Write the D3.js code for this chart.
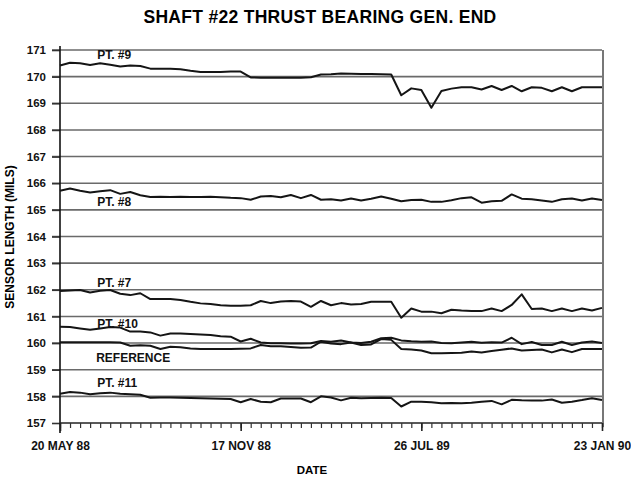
<!DOCTYPE html>
<html>
<head>
<meta charset="utf-8">
<script src="https://cdn.jsdelivr.net/npm/d3@7"></script>
<style>
  html, body { margin: 0; padding: 0; background: #fff; }
  svg { display: block; font-family: "Liberation Sans", Arial, sans-serif; font-weight: bold; }
</style>
</head>
<body>
<svg id="chart" width="631" height="479"></svg>
<script>
// Sample dates are evenly spaced; labels mark every 18th reading.
const dateLabels = ["20 MAY 88", "17 NOV 88", "26 JUL 89", "23 JAN 90"];
const dateLabelIndex = [0, 18, 36, 54];
const yTicks = [157, 158, 159, 160, 161, 162, 163, 164, 165, 166, 167, 168, 169, 170, 171];

// Sensor lengths (mils) for each measuring point
const pt9 = [170.42, 170.52, 170.5, 170.44, 170.5, 170.45, 170.38, 170.42, 170.4, 170.3,
  170.3, 170.3, 170.28, 170.22, 170.17, 170.17, 170.17, 170.19, 170.19, 169.97,
  169.96, 169.96, 169.96, 169.96, 169.96, 169.98, 170.08, 170.09, 170.12, 170.11,
  170.1, 170.1, 170.09, 170.08, 169.3, 169.56, 169.5, 168.83, 169.46, 169.55,
  169.6, 169.6, 169.52, 169.65, 169.5, 169.65, 169.45, 169.6, 169.58, 169.45,
  169.6, 169.45, 169.6, 169.6, 169.6];
const pt8 = [165.72, 165.8, 165.72, 165.65, 165.7, 165.74, 165.6, 165.67, 165.55, 165.48,
  165.49, 165.48, 165.49, 165.48, 165.48, 165.49, 165.47, 165.45, 165.44, 165.38,
  165.5, 165.52, 165.47, 165.56, 165.44, 165.56, 165.38, 165.4, 165.35, 165.43,
  165.35, 165.42, 165.5, 165.42, 165.32, 165.37, 165.38, 165.3, 165.3, 165.36,
  165.44, 165.47, 165.27, 165.32, 165.34, 165.58, 165.42, 165.4, 165.35, 165.3,
  165.4, 165.43, 165.35, 165.43, 165.37];
const pt7 = [161.95, 161.97, 161.99, 161.9, 161.96, 161.99, 161.85, 161.8, 161.87, 161.65,
  161.65, 161.65, 161.62, 161.55, 161.49, 161.47, 161.42, 161.4, 161.4, 161.42,
  161.58, 161.5, 161.56, 161.58, 161.56, 161.36, 161.58, 161.42, 161.5, 161.45,
  161.47, 161.55, 161.55, 161.55, 160.95, 161.3, 161.18, 161.18, 161.12, 161.25,
  161.22, 161.2, 161.2, 161.3, 161.2, 161.43, 161.83, 161.28, 161.3, 161.2,
  161.3, 161.2, 161.3, 161.22, 161.32];
const pt10 = [160.61, 160.6, 160.55, 160.5, 160.55, 160.6, 160.58, 160.43, 160.43, 160.4,
  160.28, 160.36, 160.36, 160.34, 160.32, 160.3, 160.26, 160.24, 160.06, 160.16,
  160.02, 159.99, 159.99, 159.98, 159.98, 159.99, 160.08, 160.05, 160.1, 160.02,
  160.0, 160.05, 160.18, 160.2, 160.1, 160.07, 160.05, 160.06, 160.0, 159.99,
  160.02, 160.05, 160.01, 160.03, 160.02, 160.2, 159.96, 160.04, 159.93, 159.93,
  160.05, 159.93, 160.02, 160.06, 160.0];
const reference = [160.03, 160.03, 160.03, 160.03, 160.03, 160.03, 160.02, 159.9, 159.92, 159.9,
  159.78, 159.86, 159.84, 159.8, 159.78, 159.78, 159.78, 159.78, 159.79, 159.8,
  159.93, 159.88, 159.88, 159.85, 159.82, 159.83, 160.05, 159.98, 159.96, 160.02,
  159.93, 159.95, 160.15, 160.12, 159.78, 159.76, 159.72, 159.62, 159.62, 159.63,
  159.64, 159.68, 159.65, 159.7, 159.75, 159.8, 159.72, 159.74, 159.76, 159.65,
  159.76, 159.66, 159.78, 159.78, 159.78];
const pt11 = [158.1, 158.16, 158.14, 158.08, 158.12, 158.14, 158.1, 158.08, 158.06, 157.95,
  157.96, 157.96, 157.95, 157.94, 157.93, 157.92, 157.91, 157.9, 157.78, 157.9,
  157.8, 157.78, 157.92, 157.92, 157.92, 157.78, 158.0, 157.96, 157.85, 157.95,
  157.93, 157.94, 157.95, 157.94, 157.62, 157.8, 157.8, 157.78, 157.74, 157.75,
  157.74, 157.76, 157.8, 157.83, 157.7, 157.87, 157.85, 157.84, 157.84, 157.88,
  157.76, 157.8, 157.86, 157.93, 157.86];

const seriesNames = ["PT. #9", "PT. #8", "PT. #7", "PT. #10", "REFERENCE", "PT. #11"];
const seriesValues = [pt9, pt8, pt7, pt10, reference, pt11];
// label anchor: sample index and value at which each series name sits
const labelAt = [[3.7, 170.65], [3.7, 165.15], [3.7, 162.1], [3.7, 160.56], [3.6, 159.3], [3.7, 158.34]];

const svg = d3.select("#chart");
const x = d3.scaleLinear().domain([0, 54]).range([60, 602]);
const y = d3.scaleLinear().domain([157, 171]).range([423, 50]);

// Title
svg.append("text")
  .attr("x", 320).attr("y", 23)
  .attr("text-anchor", "middle")
  .attr("font-size", 17.5)
  .attr("letter-spacing", 0.3)
  .text("SHAFT #22 THRUST BEARING GEN. END");

// Horizontal grid lines
svg.append("g").selectAll("line")
  .data(yTicks.filter(d => d > 157))
  .join("line")
  .attr("x1", 52).attr("x2", x(54))
  .attr("y1", d => y(d)).attr("y2", d => y(d))
  .attr("stroke", "#6a6a6a")
  .attr("stroke-width", 1.6);

// Right frame edge
svg.append("line")
  .attr("x1", x(54) + 1).attr("x2", x(54) + 1)
  .attr("y1", y(171)).attr("y2", y(157) + 4)
  .attr("stroke", "#555").attr("stroke-width", 1.6);

// Y axis
const yAxis = d3.axisLeft(y).tickValues(yTicks).tickSize(8).tickPadding(6).tickFormat(d3.format("d"));
const gy = svg.append("g").attr("transform", `translate(${x(0)},0)`).call(yAxis);
gy.select(".domain").remove();
gy.append("line").attr("x1", 0).attr("x2", 0).attr("y1", y(171) - 4).attr("y2", y(157) + 10)
  .attr("stroke", "#111").attr("stroke-width", 1.6);
gy.selectAll(".tick line").attr("stroke", "#333").attr("stroke-width", 1.6);
gy.selectAll(".tick text").attr("font-size", 11.5).attr("font-weight", "bold")
  .attr("font-family", "'Liberation Sans', Arial, sans-serif").attr("fill", "#111");

// X axis: minor tick at every reading, labelled ticks every 18 readings
const gx = svg.append("g").attr("transform", `translate(0,${y(157)})`);
gx.append("line").attr("x1", x(0)).attr("x2", x(54)).attr("y1", 0).attr("y2", 0)
  .attr("stroke", "#222").attr("stroke-width", 1.6);
const minor = d3.axisBottom(x).tickValues(d3.range(0, 55)).tickSize(5).tickFormat("");
const gxMinor = gx.append("g").call(minor);
gxMinor.select(".domain").remove();
gxMinor.selectAll(".tick line").attr("stroke", "#333").attr("stroke-width", 1.2);
const major = d3.axisBottom(x).tickValues(dateLabelIndex).tickSize(8).tickPadding(8)
  .tickFormat((d, i) => dateLabels[i]);
const gxMajor = gx.append("g").call(major);
gxMajor.select(".domain").remove();
gxMajor.selectAll(".tick line").attr("stroke", "#222").attr("stroke-width", 1.6);
gxMajor.selectAll(".tick text").attr("font-size", 12).attr("font-weight", "bold")
  .attr("font-family", "'Liberation Sans', Arial, sans-serif").attr("fill", "#111")
  .attr("dy", "0.9em");

// Axis titles
svg.append("text")
  .attr("transform", "translate(14,237) rotate(-90)")
  .attr("text-anchor", "middle")
  .attr("font-size", 12)
  .text("SENSOR LENGTH (MILS)");
svg.append("text")
  .attr("x", 312).attr("y", 474)
  .attr("text-anchor", "middle")
  .attr("font-size", 11.5)
  .text("DATE");

// Series lines
const line = d3.line().x((d, i) => x(i)).y(d => y(d));
svg.append("g").selectAll("path")
  .data(seriesValues)
  .join("path")
  .attr("d", line)
  .attr("fill", "none")
  .attr("stroke", "#151515")
  .attr("stroke-width", 2)
  .attr("stroke-linejoin", "round");

// Series names
svg.append("g").selectAll("text")
  .data(seriesNames)
  .join("text")
  .attr("x", (d, i) => x(labelAt[i][0]))
  .attr("y", (d, i) => y(labelAt[i][1]))
  .attr("font-size", 12)
  .attr("fill", "#111")
  .text(d => d);
</script>
</body>
</html>
